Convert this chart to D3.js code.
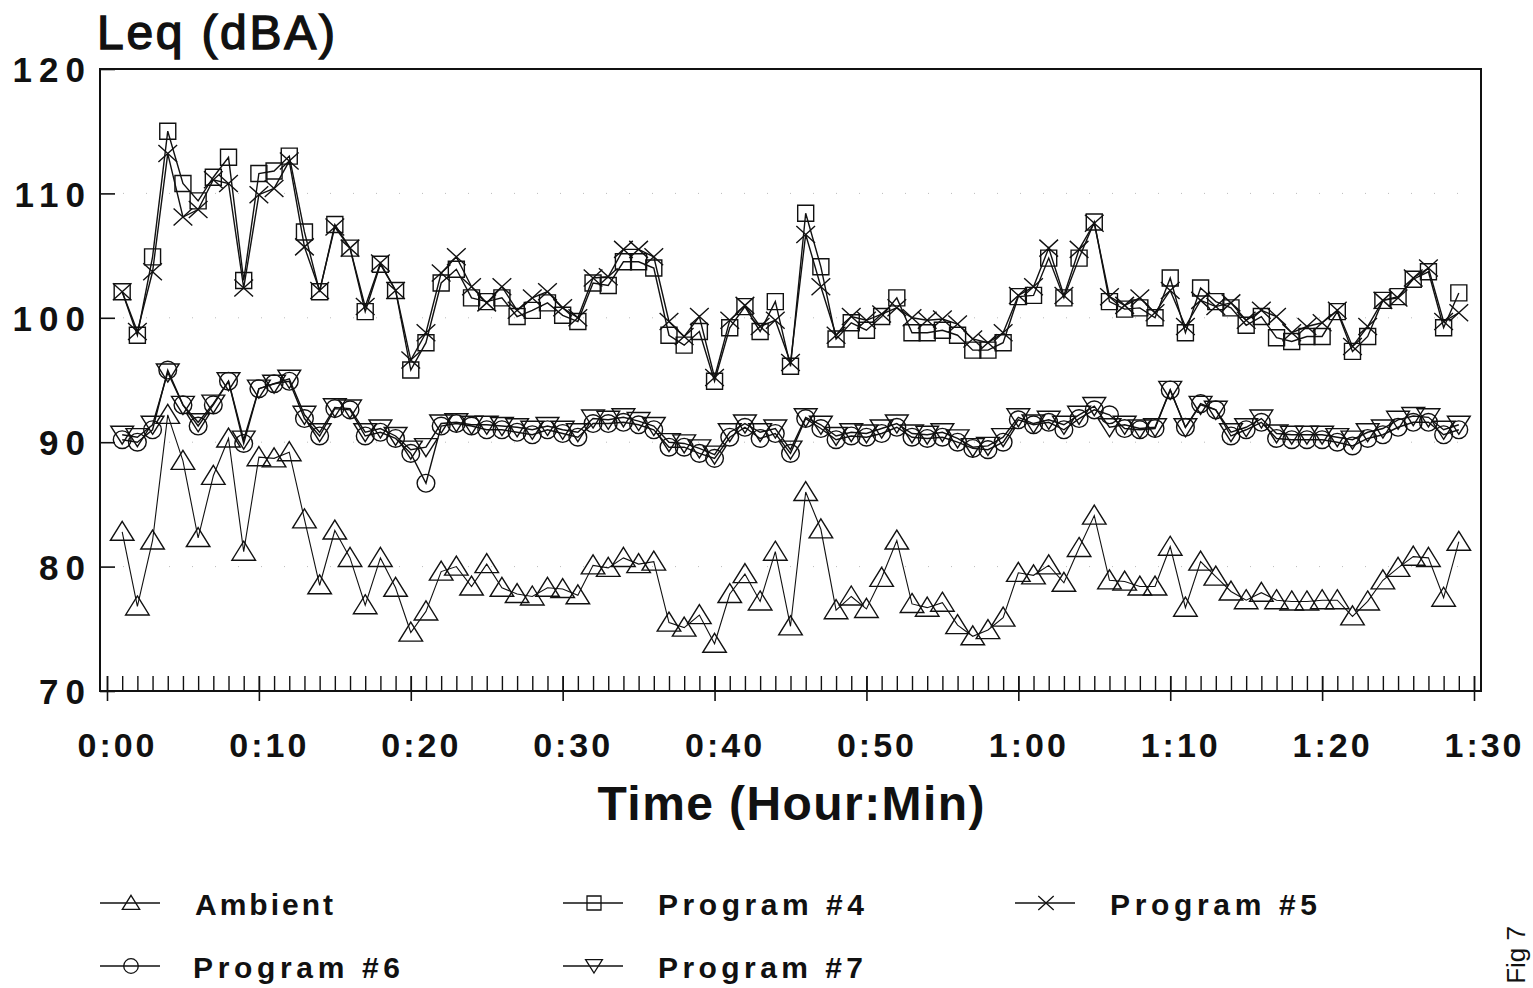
<!DOCTYPE html>
<html>
<head>
<meta charset="utf-8">
<script src="https://cdn.jsdelivr.net/npm/d3@7"></script>
<style>
  body { margin: 0; background: #fff; }
  svg text { font-family: "Liberation Sans", Arial, Helvetica, sans-serif; fill: #111; }
</style>
</head>
<body>
<script>
// minutes since start (one reading per minute)
const minutes = d3.range(1, 90);

const ambient = [82.8, 76.8, 82.1, 92.2, 88.5, 82.3, 87.3, 90.3, 81.2, 88.8,
  88.7, 89.2, 83.8, 78.5, 82.9, 80.7, 76.9, 80.7, 78.3, 74.7,
  76.4, 79.6, 80.0, 78.4, 80.2, 78.3, 77.8, 77.6, 78.3, 78.2,
  77.7, 80.1, 79.9, 80.7, 80.2, 80.4, 75.5, 75.1, 76.1, 73.8,
  77.8, 79.4, 77.2, 81.2, 75.2, 86.0, 83.0, 76.5, 77.6, 76.6,
  79.1, 82.1, 77.0, 76.7, 77.1, 75.3, 74.4, 74.9, 75.9, 79.5,
  79.3, 80.1, 78.7, 81.5, 84.1, 78.9, 78.8, 78.4, 78.4, 81.6,
  76.7, 80.4, 79.2, 78.0, 77.3, 77.9, 77.3, 77.2, 77.2, 77.3,
  77.3, 76.0, 77.2, 78.9, 79.9, 80.8, 80.7, 77.5, 82.0];

const program4 = [102.1, 98.6, 104.9, 115.0, 110.8, 109.4, 111.3, 112.9, 103.0, 111.6,
  111.8, 113.0, 106.9, 102.1, 107.5, 105.6, 100.5, 104.3, 102.2, 95.8,
  98.0, 102.8, 103.9, 101.6, 101.3, 101.6, 100.1, 100.6, 101.2, 100.2,
  99.7, 102.8, 102.6, 104.5, 104.5, 104.0, 98.6, 97.8, 98.9, 94.9,
  99.2, 100.9, 98.9, 101.3, 96.1, 108.4, 104.1, 98.3, 99.6, 99.0,
  100.1, 101.6, 98.8, 98.8, 99.0, 98.6, 97.4, 97.4, 98.0, 101.7,
  101.8, 104.8, 101.6, 104.8, 107.7, 101.3, 100.7, 100.8, 100.0, 103.2,
  98.8, 102.4, 101.3, 100.8, 99.4, 100.1, 98.4, 98.1, 98.5, 98.5,
  100.5, 97.3, 98.5, 101.4, 101.7, 103.1, 103.7, 99.2, 102.0];

const program5 = [102.1, 98.9, 103.7, 113.2, 108.1, 108.7, 111.1, 110.8, 102.4, 109.9,
  110.4, 112.6, 105.7, 102.2, 107.3, 105.6, 100.9, 104.4, 102.2, 96.6,
  98.8, 103.6, 104.9, 102.5, 101.2, 102.5, 100.6, 101.6, 102.1, 100.8,
  100.0, 103.2, 103.3, 105.5, 105.5, 104.9, 99.7, 98.5, 100.1, 95.2,
  99.8, 101.0, 99.3, 99.8, 96.4, 106.7, 102.5, 98.6, 100.1, 99.8,
  100.3, 100.8, 100.0, 99.8, 99.9, 99.5, 98.3, 98.0, 98.8, 101.8,
  102.5, 105.6, 101.8, 105.5, 107.6, 101.7, 101.0, 101.6, 100.4, 102.2,
  99.3, 101.4, 100.9, 101.2, 99.8, 100.6, 100.1, 98.8, 99.3, 99.6,
  100.6, 97.7, 99.3, 101.4, 101.6, 103.2, 104.0, 99.7, 100.4];

const program6 = [90.2, 90.0, 91.0, 95.8, 93.0, 91.3, 93.0, 94.9, 89.9, 94.3,
  94.7, 94.9, 91.9, 90.5, 92.7, 92.6, 90.5, 90.8, 90.3, 89.1,
  86.7, 91.3, 91.5, 91.3, 91.0, 91.0, 90.8, 90.6, 91.0, 90.7,
  90.4, 91.5, 91.5, 91.6, 91.4, 91.0, 89.6, 89.6, 89.1, 88.7,
  90.4, 91.2, 90.3, 90.7, 89.1, 91.9, 91.1, 90.2, 90.5, 90.4,
  90.7, 91.2, 90.4, 90.3, 90.4, 90.0, 89.5, 89.4, 90.0, 91.8,
  91.4, 91.6, 91.0, 91.9, 92.6, 92.2, 91.1, 91.0, 91.1, 94.2,
  91.2, 93.1, 92.6, 90.5, 91.0, 91.6, 90.3, 90.2, 90.2, 90.2,
  90.0, 89.7, 90.3, 90.6, 91.2, 91.6, 91.6, 90.6, 91.0];

const program7 = [90.6, 90.4, 91.4, 95.6, 93.0, 91.6, 93.1, 94.9, 90.2, 94.3,
  94.7, 95.1, 92.2, 90.8, 92.8, 92.7, 90.8, 91.1, 90.5, 89.4,
  89.6, 91.5, 91.6, 91.4, 91.4, 91.3, 91.2, 91.0, 91.3, 91.0,
  90.8, 91.9, 91.8, 92.0, 91.7, 91.3, 90.0, 89.9, 89.5, 89.0,
  90.8, 91.5, 90.8, 91.1, 89.4, 92.0, 91.4, 90.5, 90.8, 90.7,
  91.1, 91.5, 90.7, 90.6, 90.8, 90.3, 89.6, 89.7, 90.4, 92.0,
  91.5, 91.8, 91.4, 92.2, 92.9, 91.2, 91.4, 91.1, 91.2, 94.2,
  91.2, 93.0, 92.6, 90.8, 91.2, 91.9, 90.7, 90.6, 90.6, 90.6,
  90.4, 90.2, 90.8, 91.1, 91.8, 92.1, 92.0, 91.0, 91.4];

const seriesNames = ["Ambient", "Program #4", "Program #5", "Program #6", "Program #7"];
const seriesValues = [ambient, program4, program5, program6, program7];
const seriesMarkers = ["triUp", "square", "cross", "circle", "triDown"];

const yTicks = [70, 80, 90, 100, 110, 120];
const xMajorTicks = [0, 10, 20, 30, 40, 50, 60, 70, 80, 90];
const xTickLabels = ["0:00", "0:10", "0:20", "0:30", "0:40", "0:50", "1:00", "1:10", "1:20", "1:30"];

const W = 1533, H = 988;
const frame = {left: 100, right: 1481, top: 69, bottom: 691};

const svg = d3.select('body').append('svg')
  .attr('width', W)
  .attr('height', H);

const xScale = d3.scaleLinear().domain([0, 90]).range([107, 1474]);
const yScale = d3.scaleLinear().domain([70, 120]).range([frame.bottom, frame.top]);

// marker shapes, drawn around 0,0
function markerPath(type, s) {
  const p = d3.path();
  if (type === 'square') {
    p.rect(-s * 0.5, -s * 0.5, s, s);
  } else if (type === 'triUp') {
    p.moveTo(0, -s * 0.55); p.lineTo(s * 0.62, s * 0.45); p.lineTo(-s * 0.62, s * 0.45); p.closePath();
  } else if (type === 'triDown') {
    p.moveTo(0, s * 0.5); p.lineTo(s * 0.6, -s * 0.45); p.lineTo(-s * 0.6, -s * 0.45); p.closePath();
  } else if (type === 'circle') {
    p.arc(0, 0, s * 0.52, 0, 2 * Math.PI);
  } else if (type === 'cross') {
    p.moveTo(-s * 0.55, -s * 0.5); p.lineTo(s * 0.55, s * 0.5);
    p.moveTo(s * 0.55, -s * 0.5); p.lineTo(-s * 0.55, s * 0.5);
  }
  return p.toString();
}

// faint dotted grid (from the photocopy)
svg.append('g')
  .selectAll('line')
  .data([80, 90, 100, 110])
  .enter().append('line')
  .attr('x1', frame.left).attr('x2', frame.right)
  .attr('y1', d => yScale(d)).attr('y2', d => yScale(d))
  .attr('stroke', '#bbb')
  .attr('stroke-width', 1)
  .attr('stroke-dasharray', '1,22');

// frame
svg.append('rect')
  .attr('x', frame.left).attr('y', frame.top)
  .attr('width', frame.right - frame.left)
  .attr('height', frame.bottom - frame.top)
  .attr('fill', 'none')
  .attr('stroke', '#111')
  .attr('stroke-width', 2);

// y axis: inward ticks, bold labels
const yAxis = d3.axisLeft(yScale)
  .tickValues(yTicks)
  .tickSizeInner(-15)
  .tickSizeOuter(0)
  .tickPadding(8);

const yAxisGroup = svg.append('g')
  .attr('transform', `translate(${frame.left},0)`)
  .call(yAxis);
yAxisGroup.select('.domain').remove();
yAxisGroup.selectAll('line').attr('stroke', '#111').attr('stroke-width', 1.6);
yAxisGroup.selectAll('text')
  .attr('font-size', 35)
  .attr('font-weight', 'bold')
  .attr('letter-spacing', 7)
  .attr('dy', '0.36em')
  .attr('font-family', '"Liberation Sans", Arial, sans-serif')
  .attr('fill', '#111');

// x axis: minor ticks every minute pointing up
const xMinor = d3.axisBottom(xScale)
  .tickValues(d3.range(0, 91))
  .tickSizeInner(-15)
  .tickSizeOuter(0)
  .tickFormat('');
const xMinorGroup = svg.append('g')
  .attr('transform', `translate(0,${frame.bottom})`)
  .call(xMinor);
xMinorGroup.select('.domain').remove();
xMinorGroup.selectAll('line').attr('stroke', '#111').attr('stroke-width', 1.4);

// major ticks cross the axis, with labels
const xMajor = d3.axisBottom(xScale)
  .tickValues(xMajorTicks)
  .tickSizeInner(10)
  .tickSizeOuter(0)
  .tickFormat((d, i) => xTickLabels[i]);
const xMajorGroup = svg.append('g')
  .attr('transform', `translate(0,${frame.bottom})`)
  .call(xMajor);
xMajorGroup.select('.domain').remove();
xMajorGroup.selectAll('line').attr('y1', -15).attr('stroke', '#111').attr('stroke-width', 1.6);
xMajorGroup.selectAll('text')
  .attr('y', 66)
  .attr('dy', 0)
  .attr('dx', 10)
  .attr('font-size', 34)
  .attr('font-weight', 'bold')
  .attr('letter-spacing', 3)
  .attr('font-family', '"Liberation Sans", Arial, sans-serif')
  .attr('fill', '#111');

// titles
svg.append('text')
  .attr('x', 97).attr('y', 49)
  .attr('font-size', 48)
  .attr('stroke', '#111')
  .attr('stroke-width', 1.4)
  .attr('textLength', 238)
  .text('Leq (dBA)');

svg.append('text')
  .attr('x', 791).attr('y', 820)
  .attr('text-anchor', 'middle')
  .attr('font-size', 48)
  .attr('font-weight', 'bold')
  .attr('textLength', 387)
  .text('Time (Hour:Min)');

// series
const line = d3.line()
  .x((d, i) => xScale(minutes[i]))
  .y(d => yScale(d));

const markerSize = {triUp: 19, square: 16, cross: 17, circle: 17, triDown: 19};

seriesValues.forEach((vals, k) => {
  const g = svg.append('g').attr('class', 'series');
  g.append('path')
    .datum(vals)
    .attr('fill', 'none')
    .attr('stroke', '#111')
    .attr('stroke-width', k === 0 ? 1.1 : 1.4)
    .attr('d', line);
  g.selectAll('path.marker')
    .data(vals)
    .enter().append('path')
    .attr('class', 'marker')
    .attr('transform', (d, i) => `translate(${xScale(minutes[i])},${yScale(d)})`)
    .attr('d', markerPath(seriesMarkers[k], markerSize[seriesMarkers[k]]))
    .attr('fill', 'none')
    .attr('stroke', '#111')
    .attr('stroke-width', 1.4);
});

// legend
const legendPos = [
  {x: 100, y: 903}, {x: 563, y: 903}, {x: 1015, y: 903},
  {x: 100, y: 966}, {x: 563, y: 966}
];
const legendTextLen = [138, 206, 207, 207, 205];

const legend = svg.append('g')
  .selectAll('g')
  .data(seriesNames)
  .enter().append('g')
  .attr('transform', (d, i) => `translate(${legendPos[i].x},${legendPos[i].y})`);

legend.append('line')
  .attr('x1', 0).attr('x2', 60)
  .attr('stroke', '#111').attr('stroke-width', 1.3);
legend.append('path')
  .attr('transform', 'translate(31,0)')
  .attr('d', (d, i) => markerPath(seriesMarkers[i], 14))
  .attr('fill', 'none')
  .attr('stroke', '#111')
  .attr('stroke-width', 1.3);
legend.append('text')
  .attr('x', (d, i) => i === 3 ? 93 : 95)
  .attr('y', 12)
  .attr('font-size', 30)
  .attr('font-weight', 'bold')
  .attr('textLength', (d, i) => legendTextLen[i])
  .attr('lengthAdjust', 'spacing')
  .text(d => d);

// page note on the right edge
svg.append('text')
  .attr('transform', 'translate(1525,926) rotate(-90)')
  .attr('text-anchor', 'end')
  .attr('font-size', 26)
  .text('Fig 7');
</script>
</body>
</html>
